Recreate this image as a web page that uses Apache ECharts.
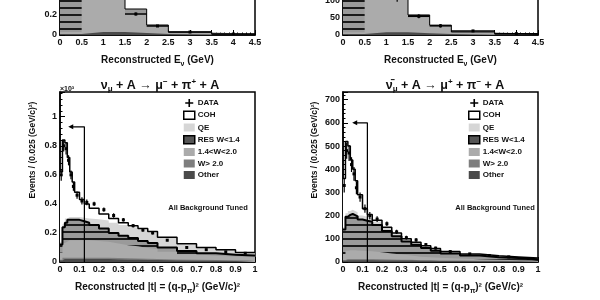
<!DOCTYPE html>
<html>
<head>
<meta charset="utf-8">
<script src="https://cdn.jsdelivr.net/npm/echarts@6/dist/echarts.min.js"></script>
<style>
html, body { margin: 0; padding: 0; background: #fff; }
#chart { width: 600px; height: 300px; }
</style>
</head>
<body>
<div id="chart"></div>
<script>
const FONT = '"Liberation Sans", Arial, sans-serif'

// top panels: reconstructed E_nu (GeV)
const eEdges = [0, 0.5, 1, 1.5, 2, 2.5, 3.5, 4.5]
const nuEOther = [0.01, 0.03, 0.03, 0.02, 0.01, 0.005, 0.002]
const nuEGray = [0.02, 1.0, 0.8, 0.2, 0.08, 0.022, 0.006]
const nuERes = [0.5, 0.3, 0.2, 0.04, 0.01, 0.003, 0.001]
const nuEData = [0.5, 1.3, 1.0, 0.21, 0.09, 0.03, 0.01]
const nuEErr = [0.03, 0.04, 0.04, 0.015, 0.01, 0.005, 0.003]
const nubEOther = [3, 8, 8, 5, 3, 1, 1]
const nubEGray = [5, 250, 95, 50, 23, 7, 2]
const nubERes = [120, 60, 37, 4, 3, 1, 0]
const nubEData = [120, 300, 108, 55, 27, 12, 4]
const nubEErr = [10, 15, 10, 6, 5, 3, 2]

// bottom panels: reconstructed |t| (GeV/c)^2
const tEdges = [0, 0.0125, 0.025, 0.0375, 0.05, 0.0625, 0.075, 0.1, 0.125, 0.15, 0.2, 0.25, 0.3, 0.35, 0.4, 0.45, 0.5, 0.6, 0.7, 0.8, 0.9, 1.0]
// neutrino, x10^3
const nuOther = [0.01, 0.02, 0.02, 0.02, 0.02, 0.02, 0.02, 0.02, 0.02, 0.02, 0.02, 0.018, 0.016, 0.015, 0.014, 0.013, 0.011, 0.009, 0.008, 0.007, 0.006]
const nuW20 = [0.005, 0.01, 0.01, 0.01, 0.01, 0.01, 0.01, 0.01, 0.01, 0.01, 0.01, 0.01, 0.009, 0.009, 0.008, 0.008, 0.007, 0.006, 0.005, 0.005, 0.004]
const nuW14 = [0.05, 0.1, 0.11, 0.12, 0.12, 0.12, 0.12, 0.12, 0.12, 0.115, 0.11, 0.1, 0.09, 0.085, 0.075, 0.068, 0.052, 0.038, 0.03, 0.025, 0.022]
const nuRes = [0.055, 0.11, 0.13, 0.14, 0.14, 0.14, 0.14, 0.13, 0.12, 0.11, 0.09, 0.072, 0.065, 0.056, 0.048, 0.041, 0.03, 0.022, 0.017, 0.013, 0.013]
const nuQe = [0.02, 0.02, 0.03, 0.02, 0.02, 0.02, 0.02, 0.025, 0.03, 0.04, 0.055, 0.07, 0.075, 0.075, 0.08, 0.075, 0.065, 0.045, 0.037, 0.033, 0.019]
const nuCoh = [0.48, 0.58, 0.52, 0.41, 0.31, 0.24, 0.17, 0.125, 0.1, 0.075, 0.045, 0.03, 0.015, 0.01, 0.005, 0.005, 0.005, 0.005, 0.003, 0.002, 0.001]
const nuData = [0.60, 0.80, 0.78, 0.70, 0.60, 0.52, 0.46, 0.42, 0.41, 0.40, 0.36, 0.32, 0.29, 0.25, 0.22, 0.20, 0.15, 0.10, 0.085, 0.07, 0.06]
const nuErr = [0.04, 0.04, 0.04, 0.035, 0.03, 0.03, 0.025, 0.025, 0.02, 0.015, 0.015, 0.015, 0.012, 0.012, 0.012, 0.01, 0.008, 0.006, 0.006, 0.005, 0.005]
// antineutrino
const nubOther = [5, 8, 8, 8, 8, 8, 8, 8, 8, 7, 7, 6, 6, 5, 5, 4, 4, 3, 3, 2, 2]
const nubW20 = [4, 5, 5, 5, 5, 5, 5, 5, 5, 5, 4, 4, 4, 3, 3, 3, 2, 2, 2, 2, 1]
const nubW14 = [25, 35, 38, 38, 38, 37, 35, 34, 33, 30, 26, 22, 18, 15, 13, 11, 9, 7, 5, 4, 3]
const nubRes = [106, 147, 152, 156, 151, 147, 135, 131, 128, 118, 97, 79, 60, 51, 39, 31, 22, 16, 11, 9, 6]
const nubQe = [10, 15, 17, 18, 18, 18, 17, 17, 16, 15, 14, 12, 11, 10, 9, 8, 7, 6, 5, 4, 4]
const nubCoh = [210, 310, 280, 215, 180, 135, 90, 35, 15, 5, 2, 2, 1, 1, 1, 1, 1, 1, 1, 1, 1]
const nubData = [330, 480, 470, 420, 380, 320, 280, 230, 200, 185, 165, 130, 105, 95, 75, 60, 45, 35, 28, 22, 15]
const nubErr = [30, 35, 35, 32, 30, 28, 20, 18, 16, 12, 10, 9, 8, 8, 7, 6, 4, 3, 3, 3, 2]

// |t| cut marker
const nuCut = [[0.055, 0.93], [0.125, 0.93], [0.125, 0]]
const nubCut = [[0.06, 600], [0.125, 600], [0.125, 0]]

// horizontal hatch for RES W<1.4
const hatch = document.createElement('canvas')
hatch.width = 4
hatch.height = 7
const hctx = hatch.getContext('2d')
hctx.fillStyle = '#9a9a9a'
hctx.fillRect(0, 0, 4, 7)
hctx.fillStyle = '#1a1a1a'
hctx.fillRect(0, 0, 4, 2)
const HATCH = { image: hatch, repeat: 'repeat' }

const C_COH = '#ffffff'
const C_QE = '#d6d6d6'
const C_W14 = '#ababab'
const C_W20 = '#7e7e7e'
const C_OTHER = '#4a4a4a'

function stepData (edges, vals) {
  const d = vals.map((v, i) => [edges[i], v])
  d.push([edges[edges.length - 1], vals[vals.length - 1]])
  return d
}

function vals0 (edges) {
  return edges.slice(1).map(() => 0)
}

// layers bottom-up; cumulative areas drawn top-down so lower ones sit on top
function histSeries (gi, edges, layers) {
  const out = []
  let cum = vals0(edges)
  const tops = layers.map(l => {
    cum = cum.map((c, i) => c + l.vals[i])
    return cum
  })
  for (let k = layers.length - 1; k >= 0; k--) {
    out.push({
      type: 'line', name: layers[k].name, xAxisIndex: gi, yAxisIndex: gi,
      step: 'end', symbol: 'none', silent: true, z: 2,
      data: stepData(edges, tops[k]),
      lineStyle: { width: 0, opacity: 0 },
      areaStyle: { color: layers[k].color, opacity: 1 }
    })
  }
  layers.forEach((l, k) => {
    if (!l.edge) return
    out.push({
      type: 'line', xAxisIndex: gi, yAxisIndex: gi, step: 'end', symbol: 'none', silent: true, z: 3,
      data: stepData(edges, tops[k]),
      lineStyle: { color: '#000', width: l.edge }
    })
  })
  return out
}

function dataSeries (gi, edges, vals, errs, withX) {
  return {
    type: 'custom', name: 'DATA', xAxisIndex: gi, yAxisIndex: gi, z: 5, clip: true,
    encode: { x: 0, y: 1 },
    data: vals.map((v, i) => [(edges[i] + edges[i + 1]) / 2, v, errs[i], withX ? (edges[i + 1] - edges[i]) / 2 : 0]),
    renderItem (params, api) {
      const x = api.value(0)
      const y = api.value(1)
      const e = api.value(2)
      const hw = api.value(3)
      const c = api.coord([x, y])
      const lo = api.coord([x, y - e])
      const hi = api.coord([x, y + e])
      const kids = [
        { type: 'line', shape: { x1: c[0], y1: lo[1], x2: c[0], y2: hi[1] }, style: { stroke: '#000', lineWidth: 1.2 } },
        { type: 'rect', shape: { x: c[0] - 1.5, y: c[1] - 1.5, width: 3, height: 3 }, style: { fill: '#000' } }
      ]
      if (hw > 0) {
        const l = api.coord([x - hw, y])
        const r = api.coord([x + hw, y])
        kids.push({ type: 'line', shape: { x1: l[0], y1: c[1], x2: r[0], y2: c[1] }, style: { stroke: '#000', lineWidth: 1.5 } })
      }
      return { type: 'group', children: kids }
    }
  }
}

function cutSeries (gi, pts) {
  return {
    type: 'line', xAxisIndex: gi, yAxisIndex: gi, z: 4, silent: true,
    showSymbol: true, symbol: 'none',
    data: pts.map((p, i) => i === 0 ? { value: p, symbol: 'triangle', symbolSize: 5, symbolRotate: 90 } : { value: p }),
    itemStyle: { color: '#000' },
    lineStyle: { color: '#000', width: 1.2 }
  }
}

const tick = { show: true, inside: true, length: 5, lineStyle: { color: '#000', width: 1 } }
const minor = { show: true, splitNumber: 5, length: 2.5, lineStyle: { color: '#000', width: 1 } }
const axLine = { show: true, onZero: false, lineStyle: { color: '#000', width: 1.5 } }
const lab = { color: '#111', fontFamily: FONT, fontWeight: 'bold', fontSize: 9, margin: 3 }
const nameStyle = {
  color: '#111', fontFamily: FONT, fontWeight: 'bold', fontSize: 10,
  rich: {
    s: { fontFamily: FONT, fontWeight: 'bold', fontSize: 7, verticalAlign: 'bottom', lineHeight: 7, padding: [0, 0, -3, 0] }
  }
}

function xAx (gi, max, interval, name) {
  return {
    gridIndex: gi, type: 'value', min: 0, max, interval,
    axisLine: axLine, axisTick: tick, minorTick: minor, splitLine: { show: false },
    axisLabel: lab, name, nameLocation: 'middle', nameGap: 20, nameTextStyle: nameStyle
  }
}

function yAx (gi, max, interval) {
  return {
    gridIndex: gi, type: 'value', min: 0, max, interval,
    axisLine: axLine, axisTick: tick, minorTick: minor, splitLine: { show: false },
    axisLabel: Object.assign({ showMaxLabel: false }, lab)
  }
}

function grid (left, top, height) {
  return {
    left, top, width: 195, height, containLabel: false, outerBoundsMode: 'none',
    show: true, borderColor: '#000', borderWidth: 1.5, backgroundColor: '#fff'
  }
}

const titleRich = {
  a: { fontFamily: FONT, fontWeight: 'bold', fontSize: 12.5, color: '#111', lineHeight: 15 },
  s: { fontFamily: FONT, fontWeight: 'bold', fontSize: 8, color: '#111', lineHeight: 8, verticalAlign: 'bottom' },
  p: { fontFamily: FONT, fontWeight: 'bold', fontSize: 8, color: '#111', lineHeight: 8, verticalAlign: 'top' }
}

function legendFor (left) {
  return {
    orient: 'vertical', left, top: 94, itemWidth: 11, itemHeight: 8, itemGap: 3.5,
    selectedMode: false,
    textStyle: { fontFamily: FONT, fontWeight: 'bold', fontSize: 8, color: '#111', padding: [0, 0, 0, -2] },
    data: [
      { name: 'DATA', icon: 'path://M0,4h10v2h-10z M4,0h2v10h-2z', itemStyle: { color: '#000' } },
      { name: 'COH', icon: 'rect', itemStyle: { color: C_COH, borderColor: '#000', borderWidth: 1.5 } },
      { name: 'QE', icon: 'rect', itemStyle: { color: C_QE, borderWidth: 0 } },
      { name: 'RES W<1.4', icon: 'rect', itemStyle: { color: '#555', borderColor: '#000', borderWidth: 1.5 } },
      { name: '1.4<W<2.0', icon: 'rect', itemStyle: { color: C_W14, borderWidth: 0 } },
      { name: 'W> 2.0', icon: 'rect', itemStyle: { color: C_W20, borderWidth: 0 } },
      { name: 'Other', icon: 'rect', itemStyle: { color: C_OTHER, borderWidth: 0 } }
    ]
  }
}

function smallText (x, y, text, size, rot) {
  return {
    type: 'text', x, y, rotation: rot || 0, silent: true,
    style: { text, font: 'bold ' + size + 'px ' + FONT, fill: '#111', textAlign: 'center', textVerticalAlign: 'middle' }
  }
}

const series = [].concat(
  histSeries(0, eEdges, [
    { name: 'Other', vals: nuEOther, color: C_OTHER },
    { name: '1.4<W<2.0', vals: nuEGray, color: C_W14 },
    { name: 'RES W<1.4', vals: nuERes, color: HATCH, edge: 1 }
  ]),
  [dataSeries(0, eEdges, nuEData, nuEErr, true)],
  histSeries(1, eEdges, [
    { name: 'Other', vals: nubEOther, color: C_OTHER },
    { name: '1.4<W<2.0', vals: nubEGray, color: C_W14 },
    { name: 'RES W<1.4', vals: nubERes, color: HATCH, edge: 1 }
  ]),
  [dataSeries(1, eEdges, nubEData, nubEErr, true)],
  histSeries(2, tEdges, [
    { name: 'Other', vals: nuOther, color: C_OTHER },
    { name: 'W> 2.0', vals: nuW20, color: C_W20 },
    { name: '1.4<W<2.0', vals: nuW14, color: C_W14 },
    { name: 'RES W<1.4', vals: nuRes, color: HATCH, edge: 2 },
    { name: 'QE', vals: nuQe, color: C_QE },
    { name: 'COH', vals: nuCoh, color: C_COH, edge: 1.5 }
  ]),
  [dataSeries(2, tEdges, nuData, nuErr, false), cutSeries(2, nuCut)],
  histSeries(3, tEdges, [
    { name: 'Other', vals: nubOther, color: C_OTHER },
    { name: 'W> 2.0', vals: nubW20, color: C_W20 },
    { name: '1.4<W<2.0', vals: nubW14, color: C_W14 },
    { name: 'RES W<1.4', vals: nubRes, color: HATCH, edge: 2 },
    { name: 'QE', vals: nubQe, color: C_QE },
    { name: 'COH', vals: nubCoh, color: C_COH, edge: 1.5 }
  ]),
  [dataSeries(3, tEdges, nubData, nubErr, false), cutSeries(3, nubCut)]
)

const chart = echarts.init(document.getElementById('chart'), null, { renderer: 'canvas' })
chart.setOption({
  animation: false,
  backgroundColor: '#fff',
  title: [
    { text: '{a|ν}{s|μ}{a| + A → μ}{p|−}{a| + π}{p|+}{a| + A}', left: 155, top: 73, textAlign: 'center', textStyle: { rich: titleRich } },
    { text: '{a|ν\u0304}{s|μ}{a| + A → μ}{p|+}{a| + π}{p|−}{a| + A}', left: 440, top: 73, textAlign: 'center', textStyle: { rich: titleRich } }
  ],
  grid: [grid(60, -25, 60), grid(343, -16, 51), grid(60, 92, 170), grid(343, 92, 170)],
  xAxis: [
    xAx(0, 4.5, 0.5, 'Reconstructed E{s|ν} (GeV)'),
    xAx(1, 4.5, 0.5, 'Reconstructed E{s|ν} (GeV)'),
    xAx(2, 1, 0.1, 'Reconstructed |t| = (q-p{s|π})² (GeV/c)²'),
    xAx(3, 1, 0.1, 'Reconstructed |t| = (q-p{s|π})² (GeV/c)²')
  ],
  yAxis: [yAx(0, 0.6, 0.2), yAx(1, 150, 50), yAx(2, 1.17, 0.2), yAx(3, 733, 100)],
  legend: [legendFor(178), legendFor(463)],
  graphic: [
    smallText(33, 150, 'Events / (0.025 (GeV/c)²)', 8.5, Math.PI / 2),
    smallText(315, 150, 'Events / (0.025 (GeV/c)²)', 8.5, Math.PI / 2),
    smallText(67, 89, '×10³', 7),
    smallText(208, 208, 'All Background Tuned', 7.5),
    smallText(495, 208, 'All Background Tuned', 7.5)
  ],
  series
})
</script>
</body>
</html>
